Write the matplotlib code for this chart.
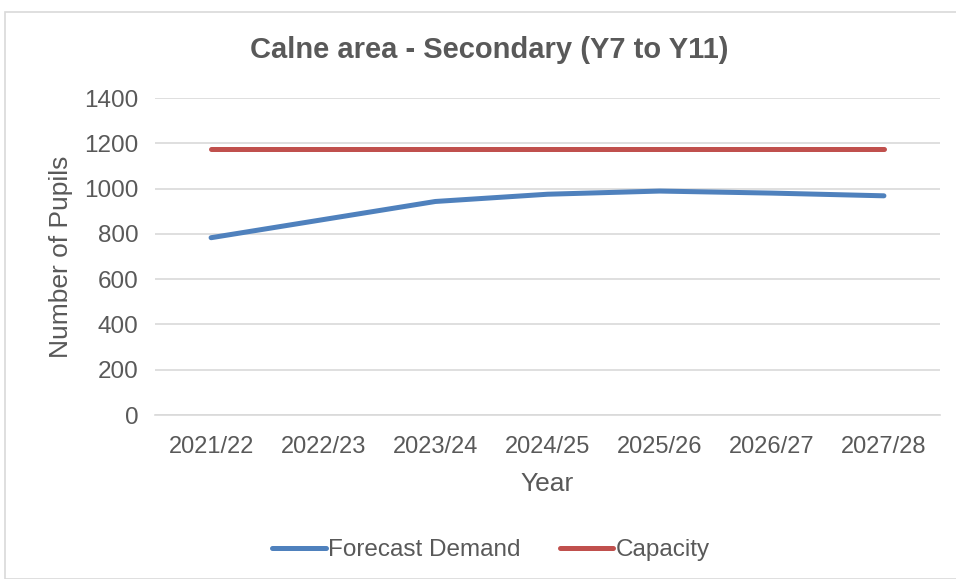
import matplotlib.pyplot as plt
from matplotlib.patches import Rectangle

# data
years = ['2021/22', '2022/23', '2023/24', '2024/25', '2025/26', '2026/27', '2027/28']
forecast_demand = [783, 863, 943, 975, 989, 980, 968]
capacity = [1175, 1175, 1175, 1175, 1175, 1175, 1175]
y_ticks = [0, 200, 400, 600, 800, 1000, 1200, 1400]

plt.rcParams['font.family'] = ['Liberation Sans', 'DejaVu Sans']
txt = '#595959'

fig = plt.figure(figsize=(9.56, 5.79), dpi=100)
# light outer border of the chart
fig.patches.append(Rectangle((5 / 956, 0), 1.5, (579 - 12) / 579, transform=fig.transFigure,
                             fill=False, edgecolor='#d9d9d9', linewidth=1.2))

ax = fig.add_axes([155 / 956, (579 - 415) / 579, 785 / 956, (415 - 98) / 579])
x = list(range(len(years)))
ax.plot(x, forecast_demand, color='#4f81bd', lw=3.6, solid_capstyle='round',
        solid_joinstyle='round', label='Forecast Demand')
ax.plot(x, capacity, color='#c0504d', lw=3.6, solid_capstyle='round', label='Capacity')

ax.set_xlim(-0.5, len(years) - 0.5)
ax.set_ylim(0, 1400)
ax.set_yticks(y_ticks)
ax.set_xticks(x)
ax.set_xticklabels(years)
ax.grid(axis='y', color='#d9d9d9', lw=1.2)
ax.set_axisbelow(True)
for s in ['top', 'right', 'left']:
    ax.spines[s].set_visible(False)
ax.spines['bottom'].set_color('#d9d9d9')
ax.spines['bottom'].set_linewidth(1.2)
ax.tick_params(axis='x', length=0, labelsize=17, colors=txt, pad=15)
ax.tick_params(axis='y', length=0, labelsize=17.5, colors=txt, pad=12)

ax.set_xlabel('Year', fontsize=19, color=txt, labelpad=10)
ax.set_ylabel('Number of Pupils', fontsize=19, color=txt, labelpad=8)
fig.text(489 / 956, 1 - 50 / 579, 'Calne area - Secondary (Y7 to Y11)', ha='center', va='center',
         fontsize=21, fontweight='bold', color=txt)

fig.legend(loc='center', bbox_to_anchor=(491 / 956, 1 - 550 / 579), ncol=2, frameon=False,
           fontsize=17.5, labelcolor=txt, handlelength=2.2, handletextpad=0.1, columnspacing=1.6)

fig.savefig('out.png', dpi=100)
